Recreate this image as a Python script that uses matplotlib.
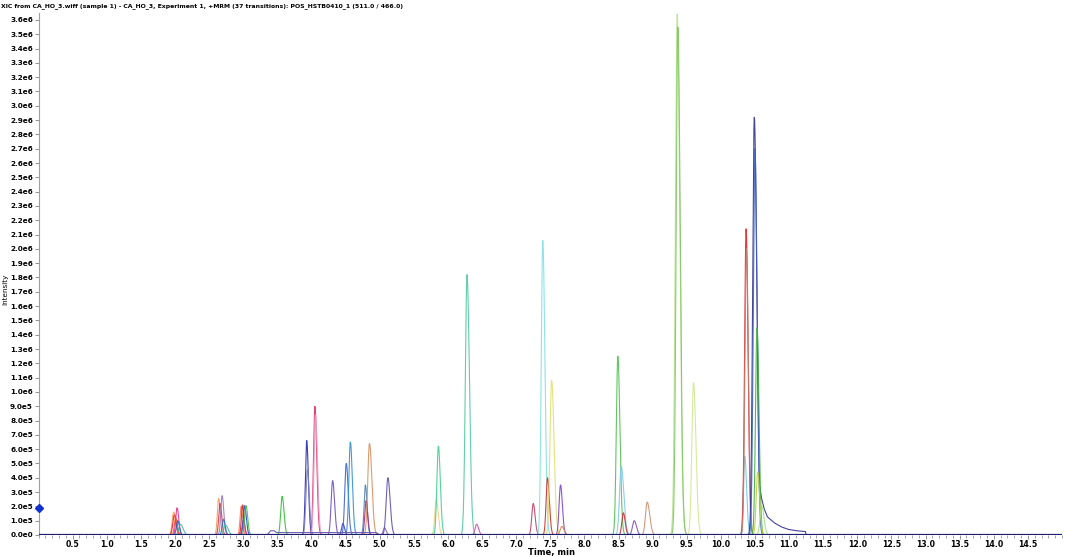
import matplotlib
matplotlib.use("Agg")
import matplotlib.pyplot as plt
import numpy as np
from matplotlib.ticker import FuncFormatter, MultipleLocator

# ---- data (time in min, height in counts) ----
title = ("XIC from CA_HO_3.wiff (sample 1) - CA_HO_3, Experiment 1, +MRM (37 transitions): "
         "POS_HSTB0410_1 (511.0 / 466.0)")

peak_rt = [1.98, 1.99, 2.01, 2.03, 2.04, 2.08,
           2.64, 2.66, 2.69, 2.71, 2.74,
           2.97, 2.99, 3.00, 3.02, 3.04,
           3.57, 3.93, 3.94, 4.05, 4.06, 4.31, 4.46, 4.51, 4.57,
           4.79, 4.80, 4.85, 5.07, 5.12,
           5.83, 5.86, 6.28, 6.42,
           7.25, 7.39, 7.46, 7.52, 7.65, 7.67,
           8.49, 8.54, 8.57, 8.73, 8.92,
           9.36, 9.37, 9.60,
           10.35, 10.37, 10.375, 10.49, 10.50, 10.53, 10.54, 10.60]
peak_height = [1.6e5, 1.4e5, 1.2e5, 1.9e5, 1.0e5, 0.75e5,
               2.55e5, 2.2e5, 2.75e5, 1.1e5, 0.7e5,
               2.0e5, 2.1e5, 1.0e5, 2.05e5, 2.05e5,
               2.7e5, 6.6e5, 4.6e5, 9.0e5, 8.4e5, 3.8e5, 0.8e5, 5.0e5, 6.5e5,
               3.5e5, 2.4e5, 6.4e5, 0.5e5, 4.0e5,
               2.45e5, 6.2e5, 18.2e5, 0.75e5,
               2.2e5, 20.6e5, 4.0e5, 10.8e5, 3.5e5, 0.6e5,
               12.5e5, 4.8e5, 1.55e5, 1.0e5, 2.3e5,
               36.4e5, 35.5e5, 10.65e5,
               5.5e5, 21.4e5, 20.0e5, 29.2e5, 27.0e5, 14.5e5, 4.4e5, 2.0e5]
peak_sigma = [0.022, 0.022, 0.019, 0.019, 0.019, 0.025,
              0.019, 0.019, 0.019, 0.019, 0.025,
              0.017, 0.017, 0.017, 0.019, 0.019,
              0.021, 0.019, 0.021, 0.021, 0.022, 0.022, 0.019, 0.022, 0.022,
              0.019, 0.019, 0.025, 0.019, 0.025,
              0.022, 0.022, 0.025, 0.022,
              0.021, 0.022, 0.021, 0.025, 0.021, 0.025,
              0.022, 0.025, 0.021, 0.025, 0.025,
              0.027, 0.025, 0.025,
              0.021, 0.022, 0.022, 0.024, 0.024, 0.022, 0.022, 0.025]
peak_tail = [1.3, 1.3, 1.3, 1.3, 1.3, 1.5,
             1.3, 1.3, 1.3, 1.3, 1.5,
             1.3, 1.3, 1.3, 1.3, 1.3,
             1.3, 1.3, 1.3, 1.3, 1.3, 1.3, 1.3, 1.3, 1.3,
             1.3, 1.3, 1.4, 1.3, 1.3,
             1.3, 1.3, 1.4, 1.3,
             1.3, 1.4, 1.3, 1.4, 1.3, 1.3,
             1.4, 1.5, 1.3, 1.3, 1.5,
             1.4, 1.4, 1.4,
             1.3, 1.3, 1.3, 1.5, 1.3, 1.3, 1.3, 1.3]

# tailing of the big 10.49 min trace
tail_t = [10.57, 10.59, 10.63, 10.68, 10.78, 10.88, 10.98, 11.10, 11.24, 11.25]
tail_v = [3.4e5, 2.7e5, 1.9e5, 1.28e5, 0.86e5, 0.58e5, 0.40e5, 0.30e5, 0.24e5, 0.0]
# raised baseline of one trace between 3.35 and 5.0 min
plateau_t = [3.35, 3.40, 3.45, 3.49, 4.95, 5.00]
plateau_v = [0.0, 0.3e5, 0.3e5, 0.17e5, 0.17e5, 0.0]

y_ticks = np.arange(0, 36.5e5, 1e5)
x_ticks = np.arange(0.5, 14.6, 0.5)

# ---- styles ----
colors = ['#f4a060', '#e8262a', '#ff5a1e', '#e6338c', '#2060d0', '#40b8a8',
          '#f0a060', '#e03030', '#9a78c8', '#3070d0', '#40c0a0',
          '#f08060', '#e02020', '#e040a0', '#2050c0', '#40c040',
          '#30c030', '#2828b0', '#8080c0', '#e03070', '#e8a0c0', '#7050c0', '#3040c0', '#4060d0', '#3090d0',
          '#4a80b8', '#a03080', '#d89060', '#9060c0', '#6050b0',
          '#f0d080', '#40d090', '#50c8a0', '#d050b0',
          '#c04060', '#80e0e8', '#d03030', '#e0e070', '#8040d0', '#e08040',
          '#50c050', '#80c8e8', '#c03030', '#8050c0', '#d09070',
          '#b8e090', '#80c860', '#d0e890',
          '#70c8e0', '#e02020', '#c08070', '#303090', '#4060c0', '#40b040', '#c0d040', '#a0e080']

narrow = ['Liberation Sans Narrow', 'DejaVu Sans']
plt.rcParams['font.family'] = narrow
fig = plt.figure(figsize=(10.65, 5.57), dpi=100)
ax = fig.add_axes([0.0362, 0.0395, 0.9610, 0.9375])

for rt, h, s, tl, c in zip(peak_rt, peak_height, peak_sigma, peak_tail, colors):
    t = np.linspace(rt - 0.15, rt + 0.15 + 6 * s * tl, 300)
    sig = np.where(t < rt, s, s * tl)
    y = h * np.exp(-0.5 * ((t - rt) / sig) ** 2)
    if rt == 10.49:
        t = np.linspace(rt - 0.15, 11.25, 600)
        sig = np.where(t < rt, s, s * tl)
        y = h * np.exp(-0.5 * ((t - rt) / sig) ** 2)
        y = np.maximum(y, np.interp(t, tail_t, tail_v, left=0, right=0))
        t = np.append(t, 11.4)
        y = np.append(y, 0)
    ax.plot(t, y, color=c, lw=0.8, alpha=0.9, solid_joinstyle='round')

ax.plot(plateau_t, plateau_v, color='#7060b0', lw=0.8)
ax.axhline(0, color='#1c1c70', lw=1.6, zorder=5)

# threshold marker on the y axis
ax.plot([0], [1.9e5], marker='D', color='#1030d0', ms=4, clip_on=False, zorder=6)

ax.set_xlim(0, 15.0)
ax.set_ylim(0, 36.5e5)


def sci_fmt(v, pos):
    if v <= 0:
        return '0.0e0'
    e = int(np.floor(np.log10(v) + 1e-9))
    return '%.1fe%d' % (v / 10 ** e, e)


ax.set_yticks(y_ticks)
ax.yaxis.set_major_formatter(FuncFormatter(sci_fmt))
ax.set_xticks(x_ticks)
ax.set_xticklabels(['%.1f' % v for v in x_ticks])
ax.xaxis.set_minor_locator(MultipleLocator(0.1))

ax.tick_params(axis='both', labelsize=5.2, colors='#808080', labelcolor='black', length=3, width=0.6, pad=1)
ax.tick_params(axis='x', which='minor', length=2, width=0.5, colors='#808080')
ax.tick_params(axis='x', labelsize=5.6, pad=0.5)
for lbl in ax.get_xticklabels() + ax.get_yticklabels():
    lbl.set_fontweight('bold')

for side in ['top', 'right']:
    ax.spines[side].set_visible(False)
ax.spines['left'].set_color('#a0a0a0')
ax.spines['left'].set_linewidth(0.8)
ax.spines['bottom'].set_visible(False)

fig.text(0.001, 0.994, title, fontsize=4.4, fontweight='bold', ha='left', va='top')
fig.text(0.0045, 0.48, 'Intensity', fontsize=5.2, rotation=90, ha='center', va='center')
fig.text(0.518, 0.008, 'Time, min', fontsize=6, fontweight='bold', ha='center', va='center')

fig.savefig('out.png', dpi=100)
